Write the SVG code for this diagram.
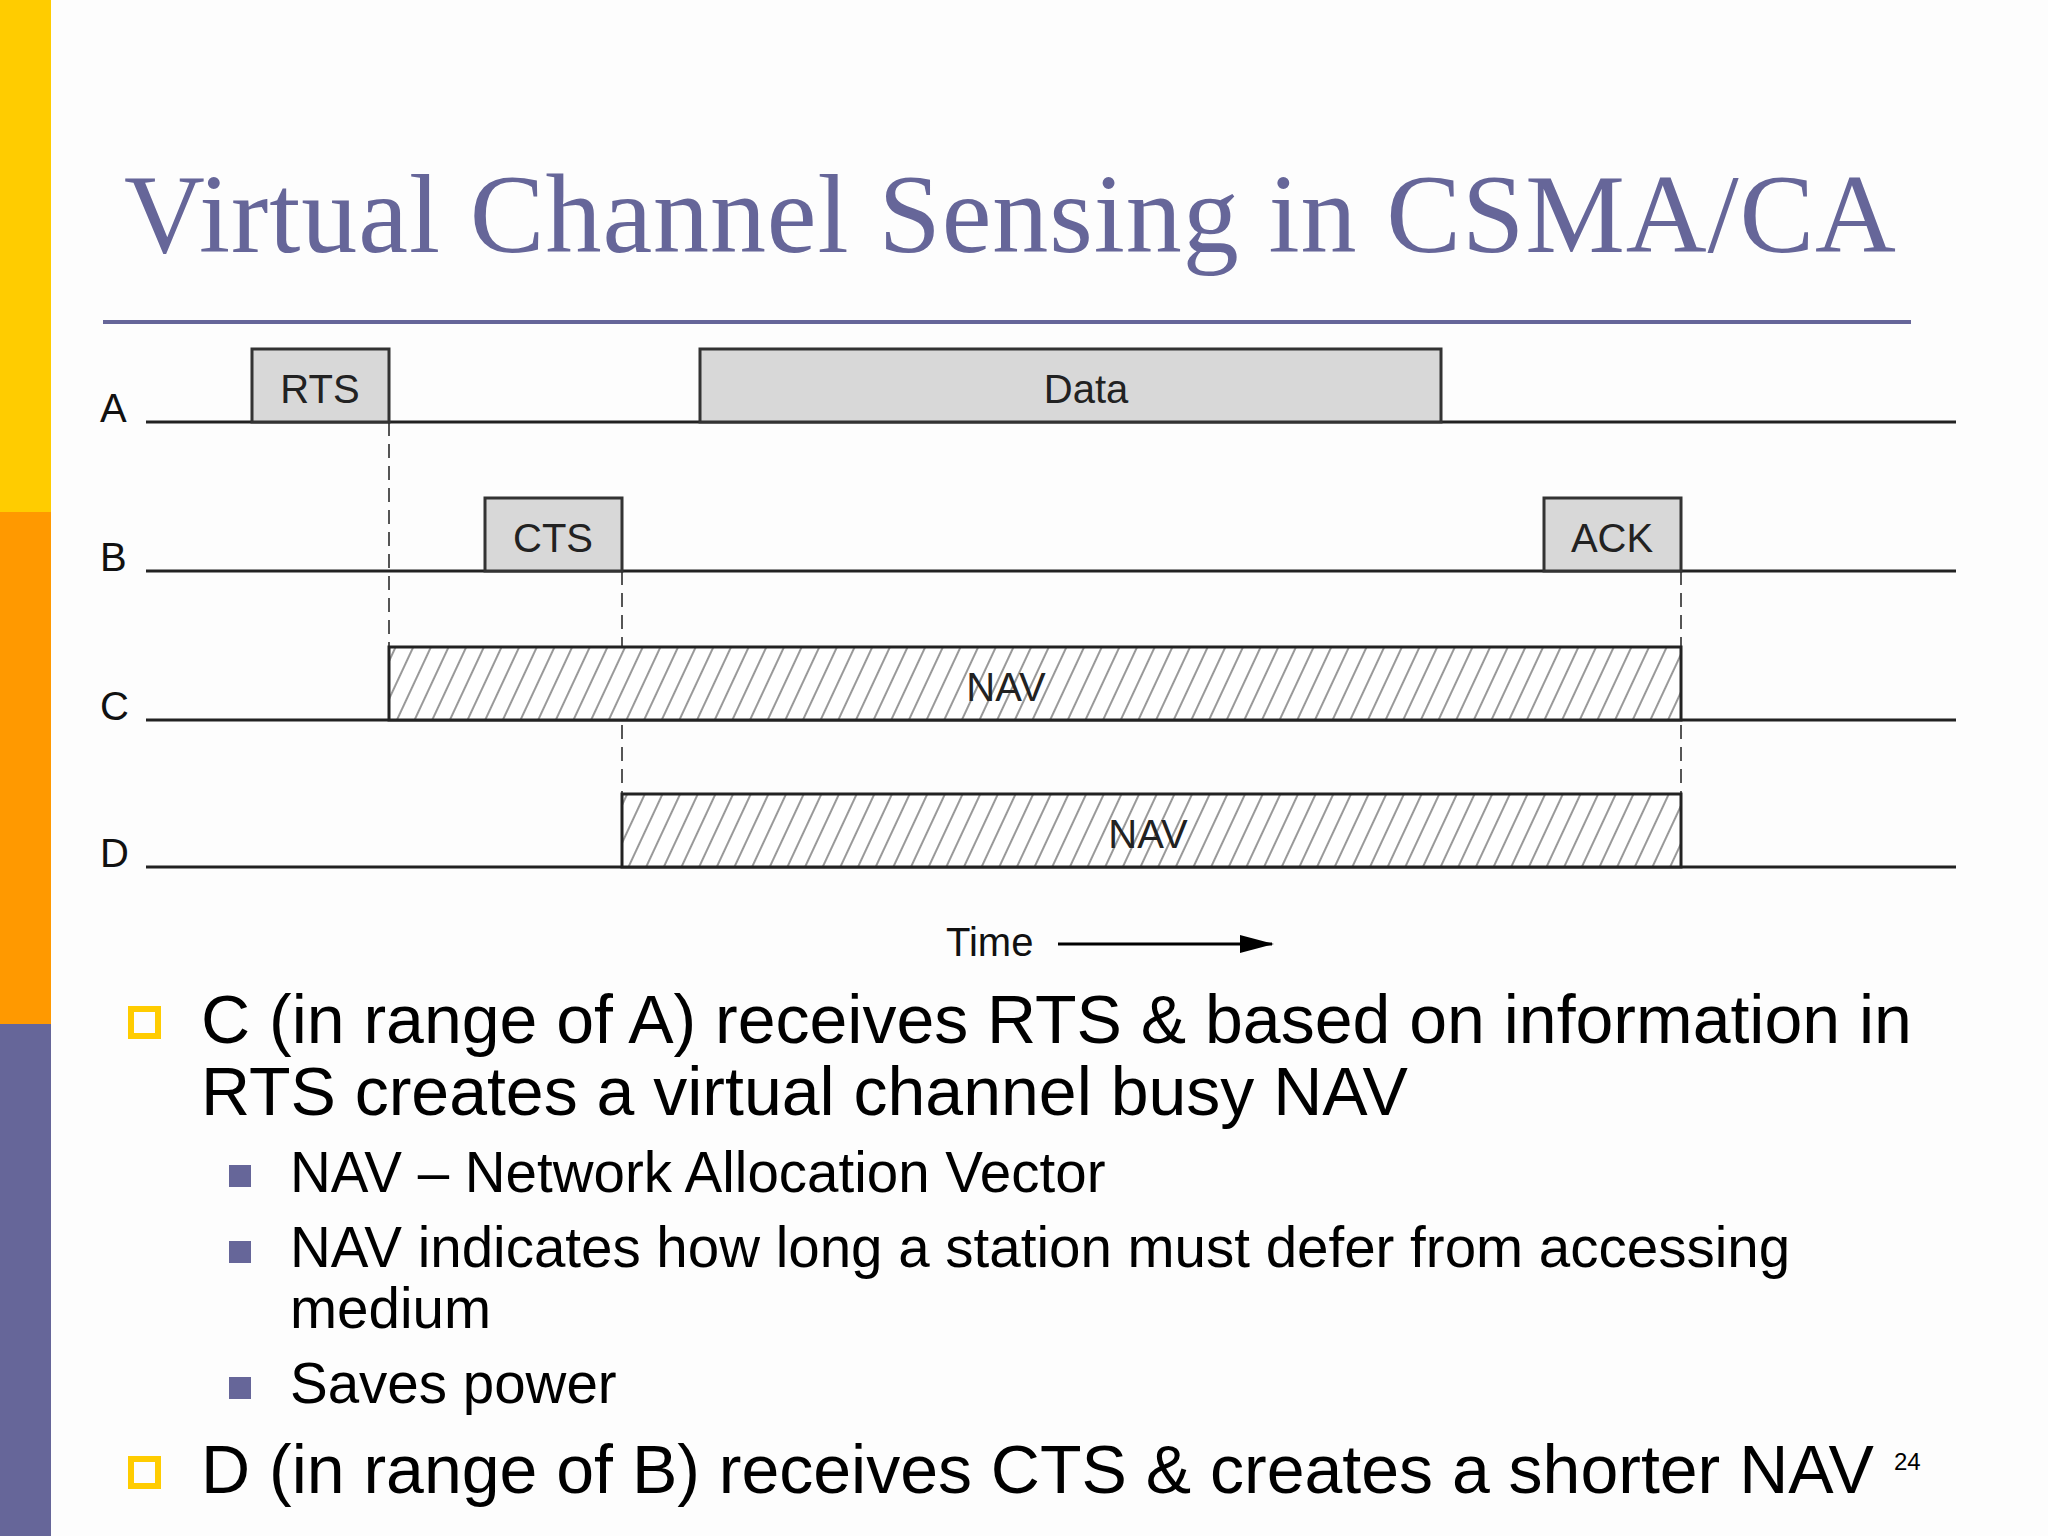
<svg xmlns="http://www.w3.org/2000/svg" width="2048" height="1536" viewBox="0 0 2048 1536">
<style>
.ln{stroke:#222;stroke-width:3;fill:none}
.box{fill:#d8d8d8;stroke:#333;stroke-width:3}
.nav{fill:url(#hatch);stroke:#222;stroke-width:3}
.dash{stroke:#555;stroke-width:2;stroke-dasharray:14 8;fill:none}
.lbl{font-family:"Liberation Sans",Arial,sans-serif;font-size:40px;fill:#111}
.bt{font-family:"Liberation Sans",Arial,sans-serif;font-size:40px;fill:#222;text-anchor:middle}
.b1{font-family:"Liberation Sans",Arial,sans-serif;font-size:68px;fill:#000}
.b2{font-family:"Liberation Sans",Arial,sans-serif;font-size:56.5px;fill:#000}
</style>
<defs>
<pattern id="hatch" patternUnits="userSpaceOnUse" width="16" height="16" patternTransform="rotate(25)">
<rect width="16" height="16" fill="#fff"/>
<line x1="8" y1="0" x2="8" y2="16" stroke="#999" stroke-width="2"/>
</pattern>
<marker id="arr" markerWidth="34" markerHeight="18" refX="32" refY="9" orient="auto" markerUnits="userSpaceOnUse"><path d="M0,0L34,9L0,18z" fill="#000"/></marker>
</defs>
<rect width="2048" height="1536" fill="#fdfdfd"/>
<rect x="0" y="0" width="51" height="512" fill="#ffcc00"/>
<rect x="0" y="512" width="51" height="512" fill="#ff9900"/>
<rect x="0" y="1024" width="51" height="512" fill="#666699"/>
<text x="124" y="252" font-family="Liberation Serif,Times New Roman,serif" font-size="112" fill="#666699" textLength="1772">Virtual Channel Sensing in CSMA/CA</text>
<line x1="103" y1="322" x2="1911" y2="322" stroke="#666699" stroke-width="4"/>
<g id="connectors">
<line class="dash" x1="389" y1="422" x2="389" y2="647"/>
<line class="dash" x1="622" y1="571" x2="622" y2="794"/>
<line class="dash" x1="1681" y1="571" x2="1681" y2="794"/>
</g>
<g id="lineA"><text class="lbl" x="100" y="422">A</text><line class="ln" x1="146" y1="422" x2="1956" y2="422"/></g>
<g id="lineB"><text class="lbl" x="100" y="571">B</text><line class="ln" x1="146" y1="571" x2="1956" y2="571"/></g>
<g id="lineC"><text class="lbl" x="100" y="720">C</text><line class="ln" x1="146" y1="720" x2="1956" y2="720"/></g>
<g id="lineD"><text class="lbl" x="100" y="867">D</text><line class="ln" x1="146" y1="867" x2="1956" y2="867"/></g>
<g id="rts"><rect class="box" x="252" y="349" width="137" height="73"/><text class="bt" x="320" y="403">RTS</text></g>
<g id="data"><rect class="box" x="700" y="349" width="741" height="73"/><text class="bt" x="1086" y="403">Data</text></g>
<g id="cts"><rect class="box" x="485" y="498" width="137" height="73"/><text class="bt" x="553" y="552">CTS</text></g>
<g id="ack"><rect class="box" x="1544" y="498" width="137" height="73"/><text class="bt" x="1612" y="552">ACK</text></g>
<g id="navC"><rect class="nav" x="389" y="647" width="1292" height="73"/><text class="bt" x="1006" y="701">NAV</text></g>
<g id="navD"><rect class="nav" x="622" y="794" width="1059" height="73"/><text class="bt" x="1148" y="848">NAV</text></g>
<g id="time"><text class="lbl" x="946" y="956">Time</text><line x1="1058" y1="944" x2="1272" y2="944" stroke="#000" stroke-width="3" marker-end="url(#arr)"/></g>
<rect x="131" y="1009" width="27" height="27" fill="none" stroke="#ffcc00" stroke-width="6"/>
<text class="b1" x="201" y="1043">C (in range of A) receives RTS &amp; based on information in</text>
<text class="b1" x="201" y="1115">RTS creates a virtual channel busy NAV</text>
<rect x="229" y="1165" width="22" height="22" fill="#666699"/>
<text class="b2" x="290" y="1192">NAV – Network Allocation Vector</text>
<rect x="229" y="1241" width="22" height="22" fill="#666699"/>
<text class="b2" x="290" y="1267">NAV indicates how long a station must defer from accessing</text>
<text class="b2" x="290" y="1328">medium</text>
<rect x="229" y="1377" width="22" height="22" fill="#666699"/>
<text class="b2" x="290" y="1403">Saves power</text>
<rect x="131" y="1459" width="27" height="27" fill="none" stroke="#ffcc00" stroke-width="6"/>
<text class="b1" x="201" y="1493">D (in range of B) receives CTS &amp; creates a shorter NAV</text>
<text x="1894" y="1470" font-family="Liberation Sans,Arial,sans-serif" font-size="24" fill="#000">24</text>
</svg>
